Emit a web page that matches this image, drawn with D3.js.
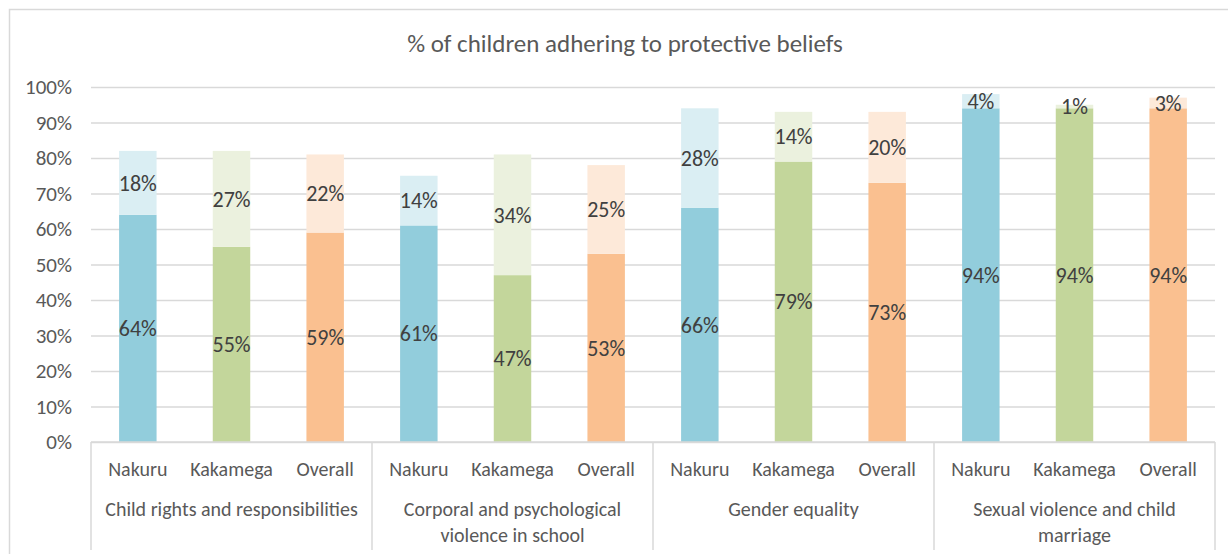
<!DOCTYPE html>
<html>
  <head>
    <title>Protective beliefs</title>
    <script src="https://cdn.jsdelivr.net/npm/d3@7"></script>
    <style>
      body { margin: 0; background: #fff; }
      text { font-family: Carlito, Calibri, Lato, sans-serif; }
    </style>
  </head>
  <body>
    <svg width="1228" height="554" id="mainsvg"></svg>
    <script>
      const groups = ['Child rights and responsibilities', 'Corporal and psychological violence in school', 'Gender equality', 'Sexual violence and child marriage'];
      const groupLines = [['Child rights and responsibilities'], ['Corporal and psychological', 'violence in school'], ['Gender equality'], ['Sexual violence and child', 'marriage']];
      const regions = ['Nakuru', 'Kakamega', 'Overall'];
      // lower (darker) segment values per region, one per group
      const baseNakuru = [64, 61, 66, 94];
      const baseKakamega = [55, 47, 79, 94];
      const baseOverall = [59, 53, 73, 94];
      // upper (lighter) segment values
      const topNakuru = [18, 14, 28, 4];
      const topKakamega = [27, 34, 14, 1];
      const topOverall = [22, 25, 20, 3];
      const yTicks = [0, 10, 20, 30, 40, 50, 60, 70, 80, 90, 100];

      const baseColors = {Nakuru: '#92cddc', Kakamega: '#c3d69b', Overall: '#fac090'};
      const topColors = {Nakuru: '#daeef3', Kakamega: '#ebf1de', Overall: '#fde9d9'};

      const svg = d3.select('#mainsvg');
      const margin = {top: 87, right: 13, bottom: 112, left: 91};
      const width = +svg.attr('width');
      const height = +svg.attr('height');
      const innerWidth = width - margin.left - margin.right;
      const innerHeight = height - margin.top - margin.bottom;

      // chart frame (runs off the right/bottom like the source crop)
      svg.append('rect')
        .attr('x', 9.5).attr('y', 9.5)
        .attr('width', width + 20).attr('height', height + 20)
        .attr('fill', 'none').attr('stroke', '#d9d9d9').attr('stroke-width', 1.5);

      svg.append('text')
        .attr('x', 625).attr('y', 52)
        .attr('text-anchor', 'middle')
        .attr('font-size', 25)
        .attr('fill', '#595959')
        .text('% of children adhering to protective beliefs');

      const g = svg.append('g').attr('transform', `translate(${margin.left}, ${margin.top})`);

      const data = [];
      groups.forEach((grp, i) => {
        data.push({group: grp, region: 'Nakuru', base: baseNakuru[i], top: topNakuru[i]});
        data.push({group: grp, region: 'Kakamega', base: baseKakamega[i], top: topKakamega[i]});
        data.push({group: grp, region: 'Overall', base: baseOverall[i], top: topOverall[i]});
      });

      const x0 = d3.scaleBand().domain(groups).range([0, innerWidth]);
      const x1 = d3.scaleBand().domain(regions).range([0, x0.bandwidth()]).paddingInner(0.6).paddingOuter(0.3);
      const y = d3.scaleLinear().domain([0, 100]).range([innerHeight, 0]);

      // gridlines + y axis labels
      const yAxis = g.append('g')
        .call(d3.axisLeft(y).tickValues(yTicks).tickSize(-innerWidth).tickFormat(d => d + '%').tickPadding(19));
      yAxis.select('.domain').remove();
      yAxis.selectAll('.tick line').attr('stroke', '#d9d9d9').attr('stroke-width', 1.5);
      yAxis.selectAll('.tick text').attr('fill', '#595959').attr('font-size', 21)
        .style('font-family', 'Carlito, Calibri, Lato, sans-serif');

      const bx = d => x0(d.group) + x1(d.region);

      const bars = g.append('g').selectAll('g').data(data).join('g');
      bars.append('rect')
        .attr('x', bx)
        .attr('width', x1.bandwidth())
        .attr('y', d => y(d.base))
        .attr('height', d => y(0) - y(d.base))
        .attr('fill', d => baseColors[d.region]);
      bars.append('rect')
        .attr('x', bx)
        .attr('width', x1.bandwidth())
        .attr('y', d => y(d.base + d.top))
        .attr('height', d => y(d.base) - y(d.base + d.top))
        .attr('fill', d => topColors[d.region]);
      bars.append('text')
        .attr('x', d => bx(d) + x1.bandwidth() / 2)
        .attr('y', d => y(d.base / 2))
        .attr('dy', '0.35em')
        .attr('text-anchor', 'middle')
        .attr('font-size', 22)
        .attr('fill', '#404040')
        .text(d => d.base + '%');
      bars.append('text')
        .attr('x', d => bx(d) + x1.bandwidth() / 2)
        .attr('y', d => y(d.base + d.top / 2))
        .attr('dy', '0.35em')
        .attr('text-anchor', 'middle')
        .attr('font-size', 22)
        .attr('fill', '#404040')
        .text(d => d.top + '%');

      // category axis
      const axisG = g.append('g').attr('transform', `translate(0, ${innerHeight})`);
      axisG.append('line')
        .attr('x1', 0).attr('x2', innerWidth)
        .attr('stroke', '#d9d9d9').attr('stroke-width', 1.5);
      const seps = groups.map(grp => x0(grp)).concat([innerWidth]);
      axisG.selectAll('.sep').data(seps).join('line')
        .attr('class', 'sep')
        .attr('x1', d => d).attr('x2', d => d)
        .attr('y1', 0).attr('y2', 108)
        .attr('stroke', '#d9d9d9').attr('stroke-width', 1.5);
      axisG.selectAll('.reg').data(data).join('text')
        .attr('class', 'reg')
        .attr('x', d => bx(d) + x1.bandwidth() / 2)
        .attr('y', 34)
        .attr('text-anchor', 'middle')
        .attr('font-size', 20)
        .attr('fill', '#595959')
        .text(d => d.region);
      groups.forEach((grp, i) => {
        axisG.append('text')
          .attr('x', x0(grp) + x0.bandwidth() / 2)
          .attr('y', 74)
          .attr('text-anchor', 'middle')
          .attr('font-size', 20)
          .attr('fill', '#595959')
          .selectAll('tspan').data(groupLines[i]).join('tspan')
          .attr('x', x0(grp) + x0.bandwidth() / 2)
          .attr('dy', (d, j) => j === 0 ? 0 : 26)
          .text(d => d);
      });
    </script>
  </body>
</html>
